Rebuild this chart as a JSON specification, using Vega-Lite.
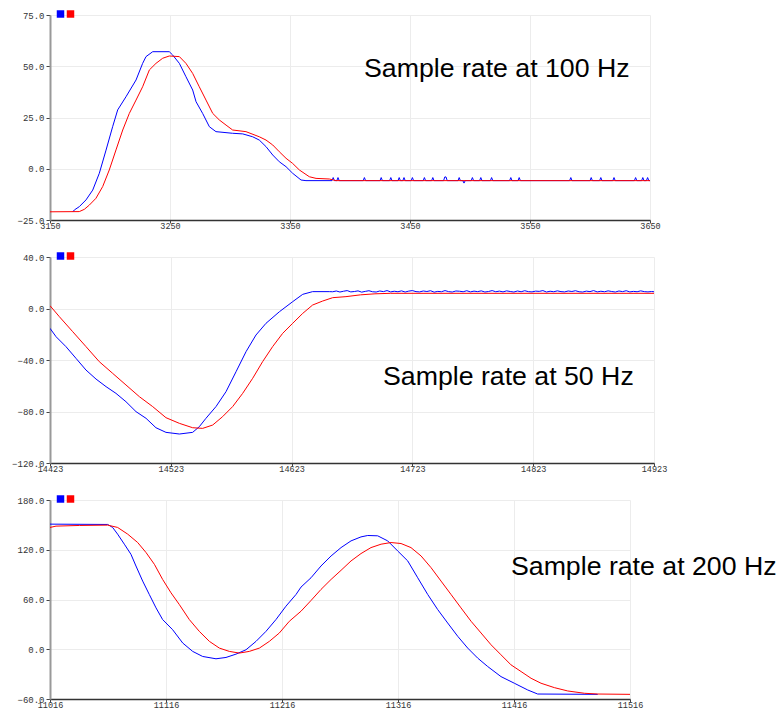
{
  "$schema": "https://vega.github.io/schema/vega-lite/v6.json",
  "padding": {"left": 11, "top": 9, "right": 0, "bottom": 0},
  "background": "white",
  "datasets": {
    "p1": [
      {"s":"raw","t":3169,"v":-21},{"s":"raw","t":3170.3,"v":-20.1},{"s":"raw","t":3174.4,"v":-18.5},{"s":"raw","t":3180,"v":-15.2},{"s":"raw","t":3185.6,"v":-10.4},{"s":"raw","t":3191.1,"v":-2.2},{"s":"raw","t":3196.7,"v":9.1},{"s":"raw","t":3202.2,"v":20.5},{"s":"raw","t":3206.4,"v":28.7},{"s":"raw","t":3213.3,"v":35.1},{"s":"raw","t":3221.7,"v":43.3},{"s":"raw","t":3227.2,"v":51.4},{"s":"raw","t":3230,"v":54.7},{"s":"raw","t":3235.6,"v":57.1},{"s":"raw","t":3249.4,"v":57.1},{"s":"raw","t":3252.2,"v":55.5},{"s":"raw","t":3257.8,"v":51.4},{"s":"raw","t":3263.3,"v":44.9},{"s":"raw","t":3268.9,"v":38.4},{"s":"raw","t":3271.7,"v":32.7},{"s":"raw","t":3277.2,"v":27.0},{"s":"raw","t":3282.8,"v":20.5},{"s":"raw","t":3288.3,"v":18.1},{"s":"raw","t":3302.2,"v":17.3},{"s":"raw","t":3310.6,"v":17.0},{"s":"raw","t":3318.9,"v":15.6},{"s":"raw","t":3324.4,"v":14.0},{"s":"raw","t":3330,"v":10.8},{"s":"raw","t":3335.6,"v":6.7},{"s":"raw","t":3341.1,"v":3.4},{"s":"raw","t":3346.7,"v":1.0},{"s":"raw","t":3352.2,"v":-2.2},{"s":"raw","t":3359.2,"v":-5.5},{"s":"raw","t":3363.3,"v":-5.8},
      {"s":"raw","t":3385,"v":-5.8},{"s":"raw","t":3386,"v":-4.3},{"s":"raw","t":3387,"v":-5.8},{"s":"raw","t":3389,"v":-5.8},{"s":"raw","t":3390,"v":-4.3},{"s":"raw","t":3391,"v":-5.8},{"s":"raw","t":3411,"v":-5.8},{"s":"raw","t":3412,"v":-4.3},{"s":"raw","t":3413,"v":-5.8},{"s":"raw","t":3425,"v":-5.8},{"s":"raw","t":3426,"v":-4.3},{"s":"raw","t":3427,"v":-5.8},{"s":"raw","t":3433,"v":-5.8},{"s":"raw","t":3434,"v":-4.3},{"s":"raw","t":3435,"v":-5.8},{"s":"raw","t":3440,"v":-5.8},{"s":"raw","t":3441,"v":-4.3},{"s":"raw","t":3442,"v":-5.8},{"s":"raw","t":3444,"v":-5.8},{"s":"raw","t":3445,"v":-4.3},{"s":"raw","t":3446,"v":-5.8},{"s":"raw","t":3451,"v":-5.8},{"s":"raw","t":3452,"v":-4.3},{"s":"raw","t":3453,"v":-5.8},{"s":"raw","t":3461,"v":-5.8},{"s":"raw","t":3462,"v":-4.3},{"s":"raw","t":3463,"v":-5.8},{"s":"raw","t":3468,"v":-5.8},{"s":"raw","t":3469,"v":-4.3},{"s":"raw","t":3470,"v":-5.8},{"s":"raw","t":3478,"v":-5.8},{"s":"raw","t":3479,"v":-4.0},{"s":"raw","t":3480,"v":-4.0},{"s":"raw","t":3481,"v":-5.8},{"s":"raw","t":3490,"v":-5.8},{"s":"raw","t":3491,"v":-4.3},{"s":"raw","t":3492,"v":-5.8},{"s":"raw","t":3494,"v":-5.8},{"s":"raw","t":3495,"v":-7.0},{"s":"raw","t":3496,"v":-5.8},{"s":"raw","t":3501,"v":-5.8},{"s":"raw","t":3502,"v":-4.3},{"s":"raw","t":3503,"v":-5.8},{"s":"raw","t":3508,"v":-5.8},{"s":"raw","t":3509,"v":-4.3},{"s":"raw","t":3510,"v":-5.8},{"s":"raw","t":3517,"v":-5.8},{"s":"raw","t":3518,"v":-4.3},{"s":"raw","t":3519,"v":-5.8},{"s":"raw","t":3533,"v":-5.8},{"s":"raw","t":3534,"v":-4.3},{"s":"raw","t":3535,"v":-5.8},{"s":"raw","t":3540,"v":-5.8},{"s":"raw","t":3541,"v":-4.3},{"s":"raw","t":3542,"v":-5.8},{"s":"raw","t":3583,"v":-5.8},{"s":"raw","t":3584,"v":-4.3},{"s":"raw","t":3585,"v":-5.8},{"s":"raw","t":3600,"v":-5.8},{"s":"raw","t":3601,"v":-4.3},{"s":"raw","t":3602,"v":-5.8},{"s":"raw","t":3608,"v":-5.8},{"s":"raw","t":3609,"v":-4.3},{"s":"raw","t":3610,"v":-5.8},{"s":"raw","t":3619,"v":-5.8},{"s":"raw","t":3620,"v":-4.3},{"s":"raw","t":3621,"v":-5.8},{"s":"raw","t":3637,"v":-5.8},{"s":"raw","t":3638,"v":-4.3},{"s":"raw","t":3639,"v":-5.8},{"s":"raw","t":3643,"v":-5.8},{"s":"raw","t":3644,"v":-4.3},{"s":"raw","t":3645,"v":-5.8},{"s":"raw","t":3647,"v":-5.8},{"s":"raw","t":3648,"v":-4.3},{"s":"raw","t":3649,"v":-5.8},{"s":"raw","t":3650,"v":-5.8},
      {"s":"filtered","t":3150,"v":-21},{"s":"filtered","t":3174.4,"v":-20.9},{"s":"filtered","t":3178.6,"v":-19.8},{"s":"filtered","t":3182.8,"v":-17.7},{"s":"filtered","t":3188.3,"v":-14.4},{"s":"filtered","t":3193.9,"v":-8.7},{"s":"filtered","t":3199.4,"v":-0.6},{"s":"filtered","t":3205,"v":9.2},{"s":"filtered","t":3210.6,"v":18.9},{"s":"filtered","t":3216.1,"v":27.0},{"s":"filtered","t":3221.7,"v":33.5},{"s":"filtered","t":3227.2,"v":40.0},{"s":"filtered","t":3232.8,"v":48.2},{"s":"filtered","t":3238.3,"v":51.4},{"s":"filtered","t":3243.9,"v":53.9},{"s":"filtered","t":3249.4,"v":55.0},{"s":"filtered","t":3257.8,"v":54.7},{"s":"filtered","t":3263.3,"v":51.4},{"s":"filtered","t":3268.9,"v":46.5},{"s":"filtered","t":3274.4,"v":40.0},{"s":"filtered","t":3280,"v":33.5},{"s":"filtered","t":3285.6,"v":27.0},{"s":"filtered","t":3291.1,"v":23.8},{"s":"filtered","t":3296.7,"v":21.3},{"s":"filtered","t":3302.2,"v":18.9},{"s":"filtered","t":3313.3,"v":18.1},{"s":"filtered","t":3324.4,"v":15.6},{"s":"filtered","t":3330,"v":14.0},{"s":"filtered","t":3335.6,"v":11.6},{"s":"filtered","t":3341.1,"v":8.3},{"s":"filtered","t":3346.7,"v":5.1},{"s":"filtered","t":3352.2,"v":2.6},{"s":"filtered","t":3357.8,"v":-0.6},{"s":"filtered","t":3366.1,"v":-3.9},{"s":"filtered","t":3371.7,"v":-4.7},{"s":"filtered","t":3382.8,"v":-5.0},{"s":"filtered","t":3388.3,"v":-5.8},{"s":"filtered","t":3650,"v":-5.8}
    ],
    "p2": [
      {"s":"raw","t":14423,"v":-15.4},{"s":"raw","t":14428,"v":-21.9},{"s":"raw","t":14436.2,"v":-29.6},{"s":"raw","t":14444.5,"v":-38.7},{"s":"raw","t":14452.8,"v":-47.8},{"s":"raw","t":14461.1,"v":-54.8},{"s":"raw","t":14469.4,"v":-60.7},{"s":"raw","t":14477.6,"v":-65.9},{"s":"raw","t":14485.9,"v":-72.4},{"s":"raw","t":14494.2,"v":-80.1},{"s":"raw","t":14502.5,"v":-85.3},{"s":"raw","t":14510.7,"v":-92.6},{"s":"raw","t":14519,"v":-96.2},{"s":"raw","t":14530.1,"v":-97.5},{"s":"raw","t":14541.1,"v":-96.2},{"s":"raw","t":14546.6,"v":-91.8},{"s":"raw","t":14552.1,"v":-85.3},{"s":"raw","t":14560.4,"v":-76.2},{"s":"raw","t":14568.7,"v":-64.6},{"s":"raw","t":14577,"v":-49.1},{"s":"raw","t":14585.3,"v":-33.5},{"s":"raw","t":14593.5,"v":-20.6},{"s":"raw","t":14601.8,"v":-11.5},{"s":"raw","t":14612.9,"v":-2.5},{"s":"raw","t":14623.9,"v":5.3},{"s":"raw","t":14632.2,"v":11.0},{"s":"raw","t":14640.4,"v":13.1},{"s":"raw","t":14654.2,"v":13.1},
      {"s":"raw","t":14657,"v":13.0},{"s":"raw","t":14660,"v":13.6},{"s":"raw","t":14663,"v":12.8},{"s":"raw","t":14666,"v":13.4},{"s":"raw","t":14669,"v":13.9},{"s":"raw","t":14672,"v":12.9},{"s":"raw","t":14675,"v":13.2},{"s":"raw","t":14678,"v":13.7},{"s":"raw","t":14681,"v":12.7},{"s":"raw","t":14684,"v":13.3},{"s":"raw","t":14687,"v":13.8},{"s":"raw","t":14690,"v":13.0},{"s":"raw","t":14693,"v":12.8},{"s":"raw","t":14696,"v":13.6},{"s":"raw","t":14699,"v":13.1},{"s":"raw","t":14702,"v":13.9},{"s":"raw","t":14705,"v":12.9},{"s":"raw","t":14708,"v":13.4},{"s":"raw","t":14711,"v":13.0},{"s":"raw","t":14714,"v":13.7},{"s":"raw","t":14717,"v":12.8},{"s":"raw","t":14720,"v":13.5},{"s":"raw","t":14723,"v":13.9},{"s":"raw","t":14726,"v":13.1},{"s":"raw","t":14729,"v":12.9},{"s":"raw","t":14732,"v":13.6},{"s":"raw","t":14735,"v":13.2},{"s":"raw","t":14738,"v":13.8},{"s":"raw","t":14741,"v":12.7},{"s":"raw","t":14744,"v":13.3},{"s":"raw","t":14747,"v":13.0},{"s":"raw","t":14750,"v":13.9},{"s":"raw","t":14753,"v":13.1},{"s":"raw","t":14756,"v":12.8},{"s":"raw","t":14759,"v":13.6},{"s":"raw","t":14762,"v":13.4},{"s":"raw","t":14765,"v":13.0},{"s":"raw","t":14768,"v":13.8},{"s":"raw","t":14771,"v":12.9},{"s":"raw","t":14774,"v":13.5},{"s":"raw","t":14777,"v":13.1},{"s":"raw","t":14780,"v":13.7},{"s":"raw","t":14783,"v":12.8},{"s":"raw","t":14786,"v":13.2},{"s":"raw","t":14789,"v":13.9},{"s":"raw","t":14792,"v":13.0},{"s":"raw","t":14795,"v":13.5},{"s":"raw","t":14798,"v":12.9},{"s":"raw","t":14801,"v":13.7},{"s":"raw","t":14804,"v":13.2},{"s":"raw","t":14807,"v":12.8},{"s":"raw","t":14810,"v":13.6},{"s":"raw","t":14813,"v":13.0},{"s":"raw","t":14816,"v":13.8},{"s":"raw","t":14819,"v":13.1},{"s":"raw","t":14822,"v":12.9},{"s":"raw","t":14825,"v":13.5},{"s":"raw","t":14828,"v":13.3},{"s":"raw","t":14831,"v":13.9},{"s":"raw","t":14834,"v":12.8},{"s":"raw","t":14837,"v":13.4},{"s":"raw","t":14840,"v":13.0},{"s":"raw","t":14843,"v":13.7},{"s":"raw","t":14846,"v":13.1},{"s":"raw","t":14849,"v":12.9},{"s":"raw","t":14852,"v":13.6},{"s":"raw","t":14855,"v":13.2},{"s":"raw","t":14858,"v":13.8},{"s":"raw","t":14861,"v":13.0},{"s":"raw","t":14864,"v":12.8},{"s":"raw","t":14867,"v":13.5},{"s":"raw","t":14870,"v":13.1},{"s":"raw","t":14873,"v":13.9},{"s":"raw","t":14876,"v":12.9},{"s":"raw","t":14879,"v":13.4},{"s":"raw","t":14882,"v":13.0},{"s":"raw","t":14885,"v":13.7},{"s":"raw","t":14888,"v":13.2},{"s":"raw","t":14891,"v":12.8},{"s":"raw","t":14894,"v":13.6},{"s":"raw","t":14897,"v":13.1},{"s":"raw","t":14900,"v":13.8},{"s":"raw","t":14903,"v":12.9},{"s":"raw","t":14906,"v":13.3},{"s":"raw","t":14909,"v":13.0},{"s":"raw","t":14912,"v":13.7},{"s":"raw","t":14915,"v":13.1},{"s":"raw","t":14918,"v":12.9},{"s":"raw","t":14921,"v":13.2},{"s":"raw","t":14923,"v":13.0},
      {"s":"filtered","t":14423,"v":2.2},{"s":"filtered","t":14430.7,"v":-6.3},{"s":"filtered","t":14441.8,"v":-18.0},{"s":"filtered","t":14452.8,"v":-29.6},{"s":"filtered","t":14463.8,"v":-41.3},{"s":"filtered","t":14474.9,"v":-50.4},{"s":"filtered","t":14485.9,"v":-59.4},{"s":"filtered","t":14497,"v":-68.5},{"s":"filtered","t":14508,"v":-76.2},{"s":"filtered","t":14519,"v":-84.8},{"s":"filtered","t":14530.1,"v":-89.2},{"s":"filtered","t":14541.1,"v":-92.6},{"s":"filtered","t":14549.4,"v":-93.1},{"s":"filtered","t":14557.7,"v":-90.5},{"s":"filtered","t":14565.9,"v":-84.0},{"s":"filtered","t":14574.2,"v":-76.2},{"s":"filtered","t":14582.5,"v":-65.9},{"s":"filtered","t":14590.8,"v":-54.2},{"s":"filtered","t":14599,"v":-41.3},{"s":"filtered","t":14607.3,"v":-29.6},{"s":"filtered","t":14615.6,"v":-19.3},{"s":"filtered","t":14623.9,"v":-11.5},{"s":"filtered","t":14632.2,"v":-3.8},{"s":"filtered","t":14640.4,"v":2.7},{"s":"filtered","t":14648.7,"v":5.8},{"s":"filtered","t":14657,"v":8.4},{"s":"filtered","t":14668,"v":9.2},{"s":"filtered","t":14680,"v":10.6},{"s":"filtered","t":14692,"v":11.4},{"s":"filtered","t":14705,"v":11.8},{"s":"filtered","t":14923,"v":11.8}
    ],
    "p3": [
      {"s":"raw","t":11016,"v":150.9},{"s":"raw","t":11065.7,"v":150.5},{"s":"raw","t":11070,"v":146.9},{"s":"raw","t":11074.3,"v":138.8},{"s":"raw","t":11080.1,"v":126.7},{"s":"raw","t":11085.8,"v":114.5},{"s":"raw","t":11090.1,"v":100.4},{"s":"raw","t":11095.9,"v":82.2},{"s":"raw","t":11101.6,"v":66.1},{"s":"raw","t":11107.4,"v":49.9},{"s":"raw","t":11113.1,"v":35.8},{"s":"raw","t":11121.7,"v":23.6},{"s":"raw","t":11130.4,"v":7.5},{"s":"raw","t":11139,"v":-2.6},{"s":"raw","t":11147.6,"v":-8.7},{"s":"raw","t":11159.1,"v":-11.5},{"s":"raw","t":11167.7,"v":-9.9},{"s":"raw","t":11176.3,"v":-5.9},{"s":"raw","t":11185,"v":-0.6},{"s":"raw","t":11193.6,"v":9.5},{"s":"raw","t":11202.2,"v":21.6},{"s":"raw","t":11210.8,"v":35.8},{"s":"raw","t":11219.4,"v":51.9},{"s":"raw","t":11228.1,"v":66.1},{"s":"raw","t":11232.4,"v":75.0},{"s":"raw","t":11241,"v":86.2},{"s":"raw","t":11249.6,"v":100.4},{"s":"raw","t":11258.3,"v":112.5},{"s":"raw","t":11266.9,"v":122.6},{"s":"raw","t":11275.5,"v":130.7},{"s":"raw","t":11284.1,"v":135.5},{"s":"raw","t":11289.9,"v":137.2},{"s":"raw","t":11298.5,"v":136.8},{"s":"raw","t":11307.1,"v":130.7},{"s":"raw","t":11315.7,"v":118.6},{"s":"raw","t":11324.4,"v":106.5},{"s":"raw","t":11333,"v":86.2},{"s":"raw","t":11341.6,"v":66.1},{"s":"raw","t":11350.2,"v":47.9},{"s":"raw","t":11358.8,"v":31.7},{"s":"raw","t":11367.5,"v":15.6},{"s":"raw","t":11376.1,"v":1.4},{"s":"raw","t":11384.7,"v":-10.7},{"s":"raw","t":11393.3,"v":-20.8},{"s":"raw","t":11404.8,"v":-33.0},{"s":"raw","t":11416.3,"v":-41.0},{"s":"raw","t":11427.8,"v":-49.1},{"s":"raw","t":11436.4,"v":-54.0},{"s":"raw","t":11488.2,"v":-54.4},
      {"s":"filtered","t":11016,"v":146.9},{"s":"filtered","t":11021.2,"v":148.5},{"s":"filtered","t":11041.3,"v":149.3},{"s":"filtered","t":11065.7,"v":149.7},{"s":"filtered","t":11074.3,"v":146.9},{"s":"filtered","t":11083,"v":138.8},{"s":"filtered","t":11091.6,"v":128.7},{"s":"filtered","t":11098.8,"v":116.6},{"s":"filtered","t":11106,"v":102.4},{"s":"filtered","t":11113.1,"v":84.2},{"s":"filtered","t":11120.3,"v":68.1},{"s":"filtered","t":11127.5,"v":53.9},{"s":"filtered","t":11136.1,"v":35.8},{"s":"filtered","t":11144.7,"v":21.6},{"s":"filtered","t":11153.4,"v":9.5},{"s":"filtered","t":11162,"v":1.4},{"s":"filtered","t":11170.6,"v":-2.6},{"s":"filtered","t":11179.2,"v":-4.6},{"s":"filtered","t":11187.8,"v":-2.6},{"s":"filtered","t":11196.5,"v":1.4},{"s":"filtered","t":11205.1,"v":9.5},{"s":"filtered","t":11213.7,"v":19.6},{"s":"filtered","t":11222.3,"v":33.7},{"s":"filtered","t":11232.4,"v":45.9},{"s":"filtered","t":11241,"v":58.8},{"s":"filtered","t":11249.6,"v":72.1},{"s":"filtered","t":11258.3,"v":84.2},{"s":"filtered","t":11266.9,"v":95.2},{"s":"filtered","t":11275.5,"v":106.5},{"s":"filtered","t":11284.1,"v":115.4},{"s":"filtered","t":11292.7,"v":122.6},{"s":"filtered","t":11301.4,"v":126.7},{"s":"filtered","t":11310,"v":128.7},{"s":"filtered","t":11318.6,"v":127.5},{"s":"filtered","t":11327.2,"v":122.6},{"s":"filtered","t":11335.9,"v":112.5},{"s":"filtered","t":11344.5,"v":98.4},{"s":"filtered","t":11353.1,"v":82.2},{"s":"filtered","t":11361.7,"v":66.1},{"s":"filtered","t":11370.3,"v":49.9},{"s":"filtered","t":11379,"v":33.7},{"s":"filtered","t":11387.6,"v":19.6},{"s":"filtered","t":11396.2,"v":5.4},{"s":"filtered","t":11404.8,"v":-6.7},{"s":"filtered","t":11413.4,"v":-18.8},{"s":"filtered","t":11422.1,"v":-26.9},{"s":"filtered","t":11430.7,"v":-35.0},{"s":"filtered","t":11439.3,"v":-41.0},{"s":"filtered","t":11450.8,"v":-46.3},{"s":"filtered","t":11462.3,"v":-50.3},{"s":"filtered","t":11476.7,"v":-53.1},{"s":"filtered","t":11488.2,"v":-54.0},{"s":"filtered","t":11516,"v":-54.4}
    ],
    "labels": [
      {"panel":1,"t":3411.7,"v":44.8,"label":"Sample rate at 100 Hz"},
      {"panel":2,"t":14698.7,"v":-59.4,"label":"Sample rate at 50 Hz"},
      {"panel":3,"t":11413.4,"v":89.1,"label":"Sample rate at 200 Hz"}
    ]
  },
  "vconcat": [
    {
      "width": 600, "height": 205,
      "encoding": {
        "x": {"field":"t","type":"quantitative","scale":{"domain":[3150,3650],"nice":false,"zero":false},"axis":{"values":[3150,3250,3350,3450,3550,3650],"format":"d","title":null}},
        "y": {"field":"v","type":"quantitative","scale":{"domain":[-25,75],"nice":false,"zero":false},"axis":{"values":[-25,0,25,50,75],"format":".1f","title":null}}
      },
      "layer": [
        {"data":{"name":"p1"},"mark":{"type":"square","filled":true,"opacity":1,"size":0},
         "encoding":{"color":{"field":"s","type":"nominal","scale":{"domain":["raw","filtered"],"range":["#0000ff","#ff0000"]},
           "legend":{"orient":"none","legendX":5.5,"legendY":-6,"direction":"horizontal","title":null,"labelExpr":"''","labelOffset":0,"columnPadding":0,"padding":0,"symbolType":"square","symbolSize":56,"symbolStrokeWidth":0,"symbolOpacity":1}}}},
        {"data":{"name":"p1"},"transform":[{"filter":"datum.s == 'raw'"}],"mark":{"type":"line","strokeWidth":1,"clip":true},
         "encoding":{"color":{"field":"s","type":"nominal","scale":{"domain":["raw","filtered"],"range":["#0000ff","#ff0000"]},"legend":null}}},
        {"data":{"name":"p1"},"transform":[{"filter":"datum.s == 'filtered'"}],"mark":{"type":"line","strokeWidth":1,"clip":true},
         "encoding":{"color":{"field":"s","type":"nominal","scale":{"domain":["raw","filtered"],"range":["#0000ff","#ff0000"]},"legend":null}}},
        {"data":{"name":"labels"},"transform":[{"filter":"datum.panel == 1"}],"mark":{"type":"text","align":"left","baseline":"alphabetic","font":"Liberation Sans","fontSize":26.7,"color":"#000000"},
         "encoding":{"text":{"field":"label","type":"nominal"}}}
      ]
    },
    {
      "width": 604, "height": 206,
      "encoding": {
        "x": {"field":"t","type":"quantitative","scale":{"domain":[14423,14923],"nice":false,"zero":false},"axis":{"values":[14423,14523,14623,14723,14823,14923],"format":"d","title":null}},
        "y": {"field":"v","type":"quantitative","scale":{"domain":[-120,40],"nice":false,"zero":false},"axis":{"values":[-120,-80,-40,0,40],"format":".1f","title":null}}
      },
      "layer": [
        {"data":{"name":"p2"},"mark":{"type":"square","filled":true,"opacity":1,"size":0},
         "encoding":{"color":{"field":"s","type":"nominal","scale":{"domain":["raw","filtered"],"range":["#0000ff","#ff0000"]},
           "legend":{"orient":"none","legendX":5.5,"legendY":-6,"direction":"horizontal","title":null,"labelExpr":"''","labelOffset":0,"columnPadding":0,"padding":0,"symbolType":"square","symbolSize":56,"symbolStrokeWidth":0,"symbolOpacity":1}}}},
        {"data":{"name":"p2"},"transform":[{"filter":"datum.s == 'raw'"}],"mark":{"type":"line","strokeWidth":1,"clip":true},
         "encoding":{"color":{"field":"s","type":"nominal","scale":{"domain":["raw","filtered"],"range":["#0000ff","#ff0000"]},"legend":null}}},
        {"data":{"name":"p2"},"transform":[{"filter":"datum.s == 'filtered'"}],"mark":{"type":"line","strokeWidth":1,"clip":true},
         "encoding":{"color":{"field":"s","type":"nominal","scale":{"domain":["raw","filtered"],"range":["#0000ff","#ff0000"]},"legend":null}}},
        {"data":{"name":"labels"},"transform":[{"filter":"datum.panel == 2"}],"mark":{"type":"text","align":"left","baseline":"alphabetic","font":"Liberation Sans","fontSize":26.7,"color":"#000000"},
         "encoding":{"text":{"field":"label","type":"nominal"}}}
      ]
    },
    {
      "width": 580, "height": 199,
      "encoding": {
        "x": {"field":"t","type":"quantitative","scale":{"domain":[11016,11516],"nice":false,"zero":false},"axis":{"values":[11016,11116,11216,11316,11416,11516],"format":"d","title":null}},
        "y": {"field":"v","type":"quantitative","scale":{"domain":[-60,180],"nice":false,"zero":false},"axis":{"values":[-60,0,60,120,180],"format":".1f","title":null}}
      },
      "layer": [
        {"data":{"name":"p3"},"mark":{"type":"square","filled":true,"opacity":1,"size":0},
         "encoding":{"color":{"field":"s","type":"nominal","scale":{"domain":["raw","filtered"],"range":["#0000ff","#ff0000"]},
           "legend":{"orient":"none","legendX":5.5,"legendY":-6,"direction":"horizontal","title":null,"labelExpr":"''","labelOffset":0,"columnPadding":0,"padding":0,"symbolType":"square","symbolSize":56,"symbolStrokeWidth":0,"symbolOpacity":1}}}},
        {"data":{"name":"p3"},"transform":[{"filter":"datum.s == 'raw'"}],"mark":{"type":"line","strokeWidth":1,"clip":true},
         "encoding":{"color":{"field":"s","type":"nominal","scale":{"domain":["raw","filtered"],"range":["#0000ff","#ff0000"]},"legend":null}}},
        {"data":{"name":"p3"},"transform":[{"filter":"datum.s == 'filtered'"}],"mark":{"type":"line","strokeWidth":1,"clip":true},
         "encoding":{"color":{"field":"s","type":"nominal","scale":{"domain":["raw","filtered"],"range":["#0000ff","#ff0000"]},"legend":null}}},
        {"data":{"name":"labels"},"transform":[{"filter":"datum.panel == 3"}],"mark":{"type":"text","align":"left","baseline":"alphabetic","font":"Liberation Sans","fontSize":26.7,"color":"#000000"},
         "encoding":{"text":{"field":"label","type":"nominal"}}}
      ]
    }
  ],
  "spacing": 37,
  "bounds": "flush",
  "resolve": {"legend": {"color": "independent"}},
  "config": {
    "view": {"stroke": null},
    "axis": {"labelFont":"Liberation Mono","labelFontSize":9,"labelColor":"#333333","grid":true,"gridColor":"#ececec","gridWidth":1,"tickColor":"#444444","tickSize":4,"labelPadding":2,"labelFlush":false,"labelOverlap":false},
    "axisX": {"domainColor":"#333333","domainWidth":1.5,"tickSize":3,"labelPadding":-2,"labelFontSize":8.5},
    "axisY": {"domainColor":"#999999","domainWidth":2}
  }
}
